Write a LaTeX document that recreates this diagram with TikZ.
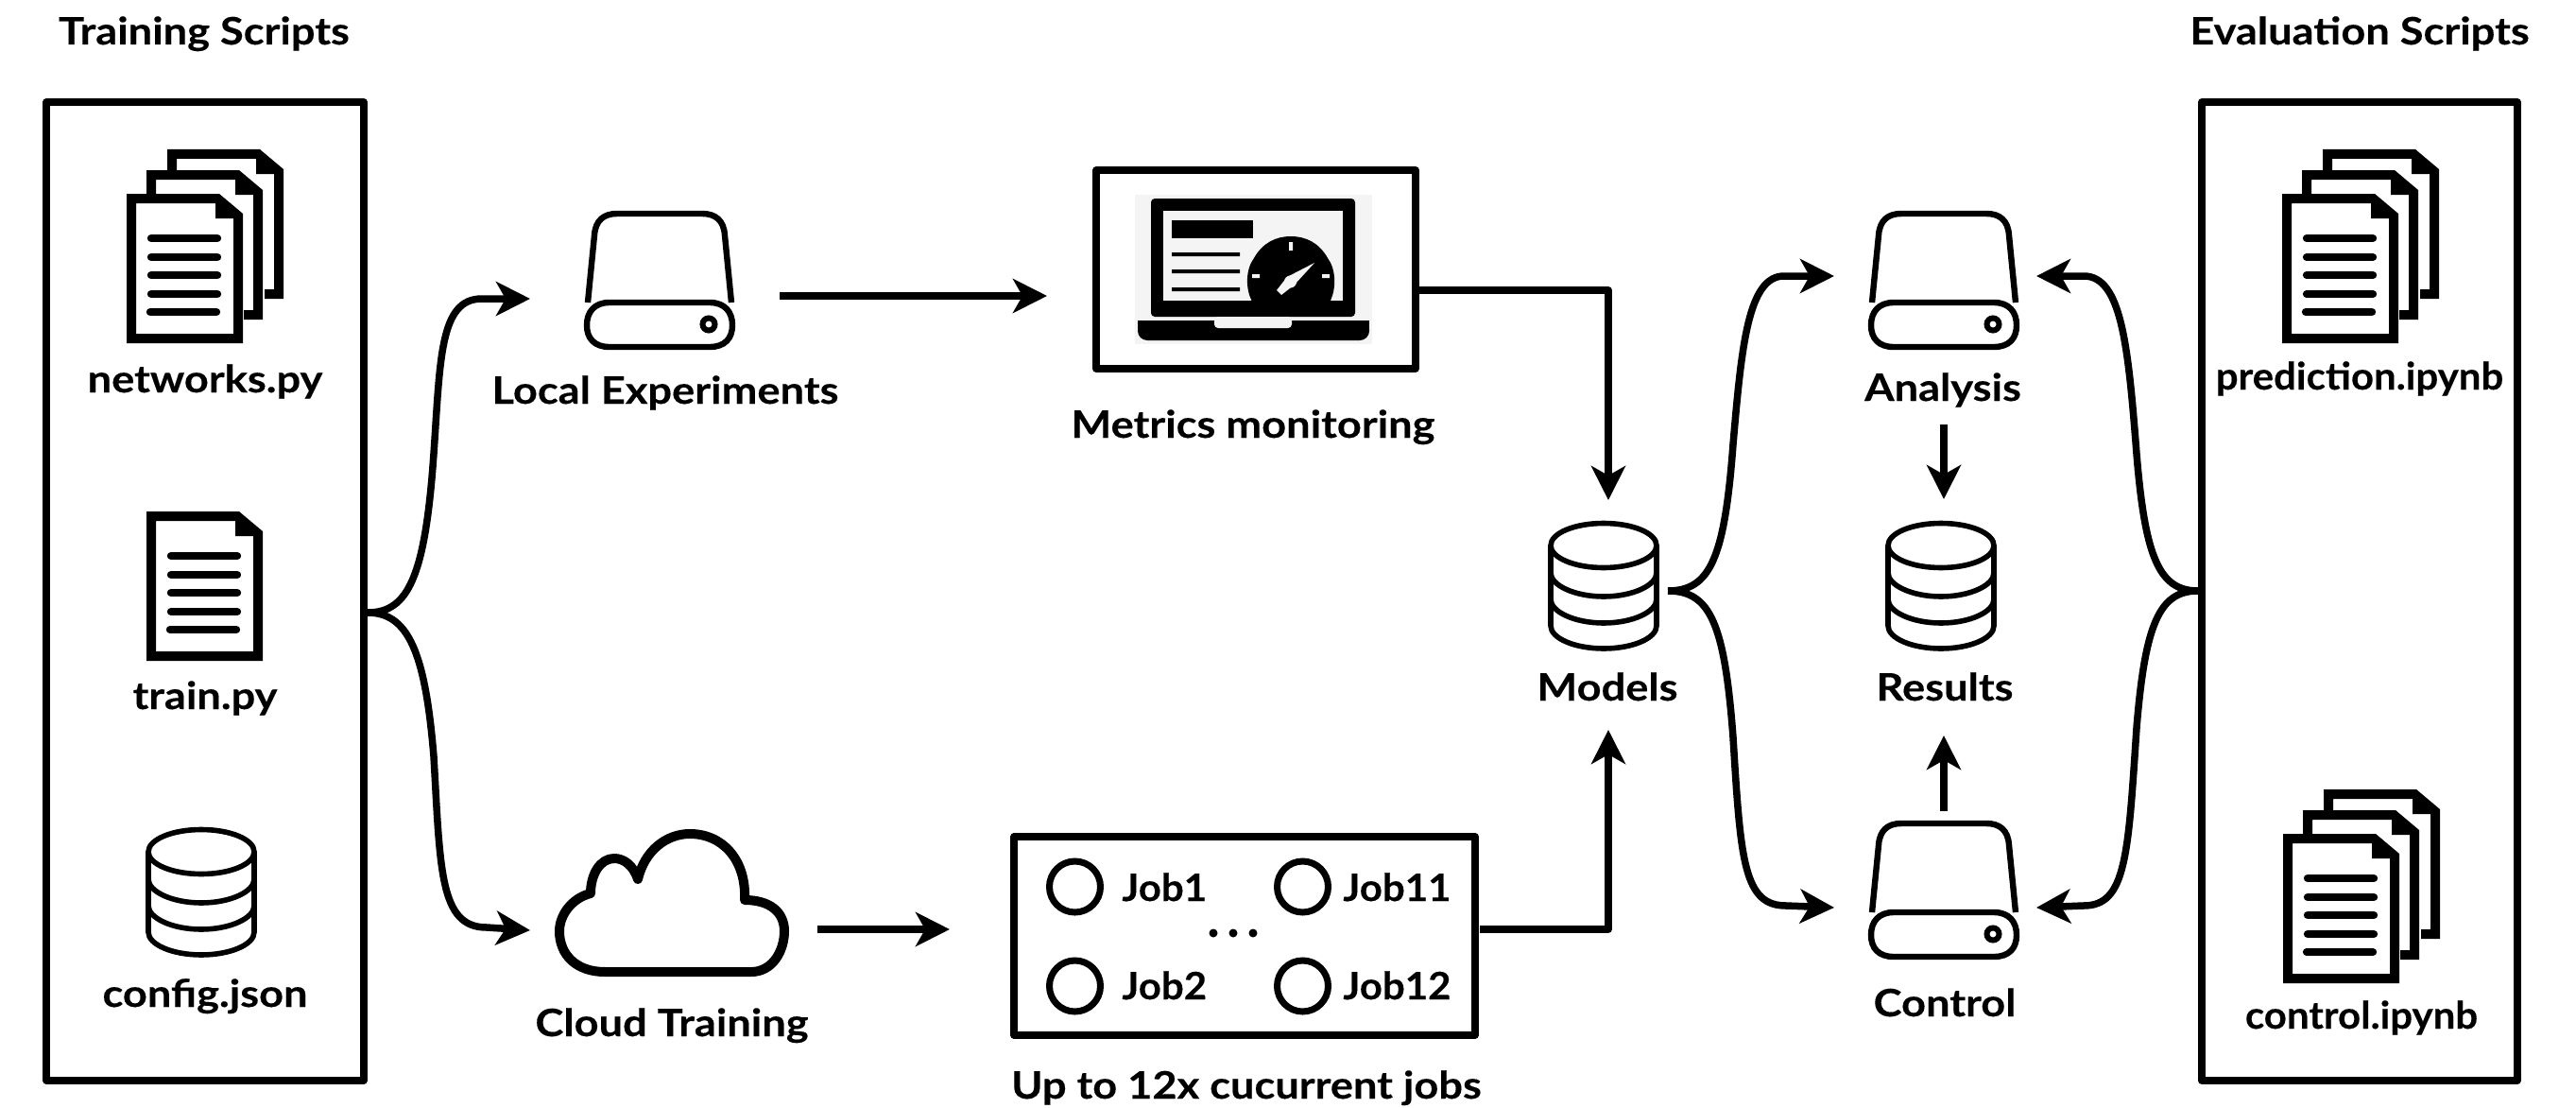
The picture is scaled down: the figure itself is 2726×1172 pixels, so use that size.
\documentclass[tikz,border=0pt]{standalone}
\usepackage{fontspec}
\setmainfont[FakeStretch=1.13,FakeBold=0.25]{Lato}
\newfontfamily\tightfont[FakeStretch=1.05,FakeBold=0.25]{Lato}
\usetikzlibrary{arrows.meta}
\definecolor{lapbg}{HTML}{F4F4F4}
\tikzset{
 x=0.5pt,y=-0.5pt,
 lab/.style={font=\fontsize{20}{22}\selectfont\bfseries,anchor=base,inner sep=0pt,text=black},
 tightlab/.style={font=\fontsize{20}{22}\selectfont\tightfont\bfseries,anchor=base,inner sep=0pt,text=black},
 frame/.style={draw=black,line width=3.75pt,line join=round,fill=white},
 conn/.style={draw=black,line width=3.75pt,line join=round,-{Stealth[length=18pt,width=18pt,inset=5pt]}},
 iconline/.style={draw=black,line width=3.2pt,line join=round},
 docline/.style={draw=black,line width=4.2pt,line cap=round},
 dbline/.style={draw=black,line width=2.8pt},
 jobring/.style={circle,draw=black,line width=3.5pt,minimum size=27pt,inner sep=0pt},
 doc/.pic={
  \fill[black,even odd rule] (0,0)--(98,0)--(123,21)--(123,158)--(0,158)--cycle
    (10,10)--(10,148)--(113,148)--(113,26)--(94,26)--(94,10)--cycle;
  \draw[docline] (26,47)--(96,47) (26,67)--(96,67) (26,86)--(96,86) (26,106)--(96,106) (25,125)--(95,125);
 },
 docback/.pic={
  \fill[black] (0,0)--(98,0)--(123,21)--(123,158)--(103,158)--(103,148)--(113,148)--(113,26)--(94,26)--(94,10)--(10,10)--(10,25)--(0,25)--cycle;
 },
 stack/.pic={
  \pic at (43,-47) {docback};
  \pic at (21,-25) {docback};
  \pic at (0,0) {doc};
 },
 drive/.pic={
  \draw[iconline] (5,98) -- (12,27) .. controls (13,11) and (22,4) .. (36,4) -- (126,4) .. controls (140,4) and (149,11) .. (150,27) -- (157,98);
  \draw[iconline] (28,98) -- (134,98) .. controls (150,98) and (158,108) .. (158,122) .. controls (158,136) and (150,145) .. (134,145) -- (28,145) .. controls (12,145) and (4,136) .. (4,122) .. controls (4,108) and (12,98) .. (28,98) -- cycle;
  \draw[draw=black,line width=3pt] (133,121) circle (6.5);
 },
 dbicon/.pic={
  \draw[dbline] (59,26) ellipse (56 and 23.5);
  \draw[dbline] (3,26) -- (3,111) .. controls (3,124) and (28,135) .. (59,135) .. controls (90,135) and (115,124) .. (115,111) -- (115,26);
  \draw[dbline] (3,55) .. controls (3,68) and (28,80) .. (59,80) .. controls (90,80) and (115,68) .. (115,55);
  \draw[dbline] (3,83) .. controls (3,96) and (28,108) .. (59,108) .. controls (90,108) and (115,96) .. (115,83);
 },
}
\begin{document}
\begin{tikzpicture}
\useasboundingbox (0,0) rectangle (2726,1172);
% frames
\draw[frame] (49,108) rectangle (385,1143);
\draw[frame] (2330,108) rectangle (2664,1143);
\draw[frame] (1160,180) rectangle (1498,390);
\draw[frame] (1073,885) rectangle (1561,1095);
% titles
\node[lab] (t1) at (216,47) {Training Scripts};
\node[lab] (t2) at (2497,47) {Evaluation Scripts};
% doc stacks
\pic at (134,205) {stack};
\pic at (155,541) {doc};
\pic at (2415,205) {stack};
\pic at (2416,882) {stack};
\pic at (154,875) {dbicon};
\pic at (1638,551) {dbicon};
\pic at (1995,551) {dbicon};
\pic at (617,222) {drive};
\pic at (1976,222) {drive};
\pic at (1976,867) {drive};
% labels
\node[lab] (n1) at (217,415) {networks.py};
\node[lab] (n2) at (217,750) {train.py};
\node[lab] (n3) at (217,1065) {config.json};
\node[lab] (n4) at (704,427) {Local Experiments};
\node[lab] (n5) at (711,1096) {Cloud Training};
\node[lab] (n6) at (1326,463) {Metrics monitoring};
\node[lab] (n7) at (1319,1162) {Up to 12x cucurrent jobs};
\node[lab] (n8) at (1701,741) {Models};
\node[lab] (n9) at (2058,741) {Results};
\node[lab] (n10) at (2058,1075) {Control};
\node[lab] (n11) at (2056,424) {Analysis};
\node[tightlab] (n12) at (2497,412) {prediction.ipynb};
\node[tightlab] (n13) at (2499,1088) {control.ipynb};
% cloud
\draw[draw=black,line width=5pt,line join=round]
 (640,1028) -- (795,1028) .. controls (818,1028) and (830,1005) .. (830,985) .. controls (830,965) and (815,952) .. (788,952)
 .. controls (790,910) and (765,882) .. (730,882) .. controls (705,882) and (682,900) .. (675,930)
 .. controls (670,915) and (660,908) .. (650,908) .. controls (635,908) and (625,925) .. (625,945)
 .. controls (605,950) and (592,968) .. (592,985) .. controls (592,1010) and (610,1028) .. (640,1028) -- cycle;
% laptop
\fill[lapbg] (1201,206) rectangle (1452,364);
\fill[black,rounded corners=2pt] (1218,210) rectangle (1434,335);
\fill[lapbg] (1231,223) rectangle (1421,318);
\fill[black] (1240,233) rectangle (1326,252);
\fill[black] (1240,267) rectangle (1312,271) (1240,285) rectangle (1312,289) (1240,304) rectangle (1312,308);
\fill[black] (1324.5,318) .. controls (1318,305) and (1318,285) .. (1327,273) .. controls (1336,257) and (1350,250) .. (1366,250) .. controls (1382,250) and (1396,257) .. (1405,273) .. controls (1414,285) and (1414,305) .. (1408,318) -- cycle;
\fill[lapbg] (1364,256) rectangle (1368,265) (1325,290) rectangle (1333,294) (1399,290) rectangle (1407,294);
\fill[lapbg] (1391,278) -- (1370,301) -- (1356,312) -- (1351,307) -- (1362,293) -- cycle;
\fill[lapbg] (1365.5,298) circle (6.5);
\fill[black,rounded corners=5pt] (1204,339) -- (1204,360) -- (1449,360) -- (1449,339) -- cycle;
\fill[black] (1204,339) rectangle (1449,348);
\fill[lapbg,rounded corners=2pt] (1285,335) -- (1285,347) -- (1367,347) -- (1367,335) -- cycle;
% jobs
\node[jobring] (j1) at (1137.5,938) {};
\node[jobring] (j2) at (1378.5,938) {};
\node[jobring] (j3) at (1137.5,1043) {};
\node[jobring] (j4) at (1378.5,1043) {};
\node[tightlab,anchor=base west] (l1) at (1187,953) {Job1};
\node[tightlab,anchor=base west] (l2) at (1421,953) {Job11};
\node[tightlab,anchor=base west] (l3) at (1187,1057) {Job2};
\node[tightlab,anchor=base west] (l4) at (1421,1057) {Job12};
\fill[black] (1284,987) circle (4.5) (1305,987) circle (4.5) (1326,987) circle (4.5);
% coordinates for connectors
\coordinate (forkL) at (389,648);
\coordinate (localIn) at (561,316);
\coordinate (cloudIn) at (561,984);
\coordinate (localOut) at (825,313);
\coordinate (metricsIn) at (1108,313);
\coordinate (metricsOut) at (1502,307);
\coordinate (modelsTop) at (1702,529);
\coordinate (jobsOut) at (1566,983);
\coordinate (modelsBot) at (1702,772);
\coordinate (cloudOut) at (865,983);
\coordinate (jobsIn) at (1005,983);
\coordinate (forkM) at (1765,625);
\coordinate (anaL) at (1941,292);
\coordinate (ctlL) at (1941,960);
\coordinate (forkR) at (2326,625);
\coordinate (anaR) at (2155,292);
\coordinate (ctlR) at (2155,960);
\coordinate (anaOut) at (2057,449);
\coordinate (resTop) at (2057,528);
\coordinate (ctlOut) at (2057,858);
\coordinate (resBot) at (2057,778);
% connectors
\draw[conn] (forkL) .. controls (432,648) and (450,610) .. (459,480) .. controls (466,380) and (465,316) .. (510,316) -- (localIn);
\draw[conn] (forkL) .. controls (432,648) and (450,690) .. (459,800) .. controls (466,920) and (465,981) .. (515,981) -- (cloudIn);
\draw[conn] (localOut) -- (metricsIn);
\draw[conn] (metricsOut) -| (modelsTop);
\draw[conn] (jobsOut) -| (modelsBot);
\draw[conn] (cloudOut) -- (jobsIn);
\draw[conn] (forkM) .. controls (1810,625) and (1825,590) .. (1834,470) .. controls (1843,365) and (1850,292) .. (1888,292) -- (anaL);
\draw[conn] (forkM) .. controls (1810,625) and (1825,660) .. (1834,780) .. controls (1842,910) and (1845,958) .. (1890,958) -- (ctlL);
\draw[conn] (forkR) .. controls (2285,625) and (2270,590) .. (2261,480) .. controls (2252,365) and (2245,292) .. (2205,292) -- (anaR);
\draw[conn] (forkR) .. controls (2285,625) and (2270,660) .. (2261,770) .. controls (2252,905) and (2250,958) .. (2205,958) -- (ctlR);
\draw[conn] (anaOut) -- (resTop);
\draw[conn] (ctlOut) -- (resBot);
\end{tikzpicture}
\end{document}
